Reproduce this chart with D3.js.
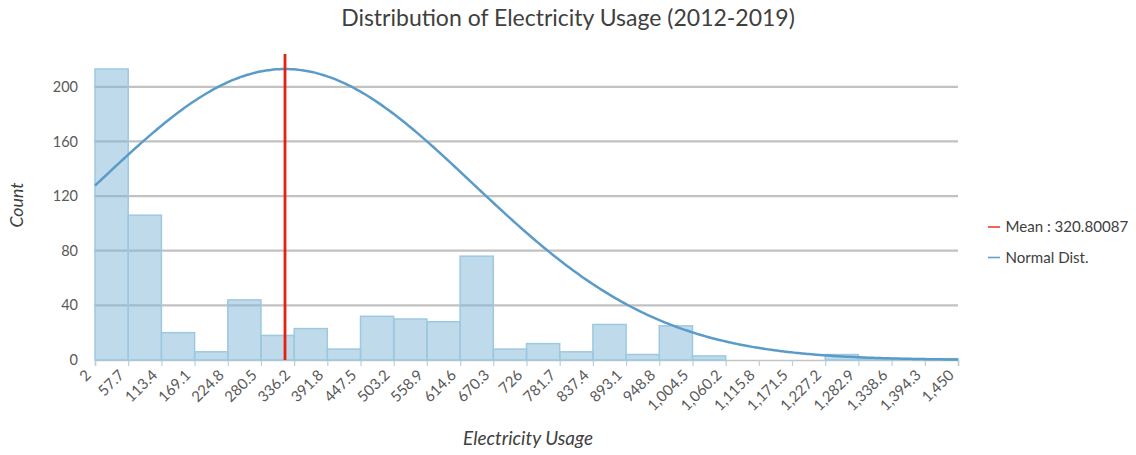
<!DOCTYPE html>
<html>
<head>
<meta charset="utf-8">
<script src="https://cdn.jsdelivr.net/npm/d3@7/dist/d3.min.js"></script>
<style>
  html, body { margin: 0; padding: 0; background: #fff; }
  svg { display: block; font-family: Lato, "Open Sans", sans-serif; }
</style>
</head>
<body>
<svg id="chart" width="1136" height="455"></svg>
<script>
// Histogram bin edges (electricity usage) and counts per bin
const binEdges = [2, 57.7, 113.4, 169.1, 224.8, 280.5, 336.2, 391.8, 447.5, 503.2, 558.9,
  614.6, 670.3, 726, 781.7, 837.4, 893.1, 948.8, 1004.5, 1060.2, 1115.8, 1171.5,
  1227.2, 1282.9, 1338.6, 1394.3, 1450];
const binCounts = [213, 106, 20, 6, 44, 18, 23, 8, 32, 30, 28, 76, 8, 12, 6, 26, 4, 25,
  3, 0, 0, 0, 4, 1, 1, 1];
const yTicks = [0, 40, 80, 120, 160, 200];
const meanValue = 320.80087;
const stdDev = 315;
const yMax = 224;

const titleText = "Distribution of Electricity Usage (2012-2019)";
const xTitle = "Electricity Usage";
const yTitle = "Count";
const legendItems = [
  { label: "Mean : 320.80087", color: "#e8412a" },
  { label: "Normal Dist.", color: "#6a9fcb" }
];

const svg = d3.select("#chart");
const plot = { left: 95, right: 958, top: 54, bottom: 360 };

const x = d3.scaleLinear().domain([binEdges[0], binEdges[binEdges.length - 1]]).range([plot.left, plot.right]);
const y = d3.scaleLinear().domain([0, yMax]).range([plot.bottom, plot.top]);

// shrink or grow a text element's font so it spans the given width
function fitWidth(sel, target) {
  const w = sel.node().getComputedTextLength();
  const fs = parseFloat(sel.attr("font-size"));
  sel.attr("font-size", (fs * target / w).toFixed(2));
}

// horizontal gridlines
svg.append("g").selectAll("line").data(yTicks.filter(d => d > 0)).join("line")
  .attr("x1", plot.left - 1).attr("x2", plot.right)
  .attr("y1", d => y(d)).attr("y2", d => y(d))
  .attr("stroke", "#c2c2c2").attr("stroke-width", 2.2);

// x axis baseline and ticks
const xAxis = svg.append("g").attr("transform", `translate(0,${plot.bottom})`)
  .call(d3.axisBottom(x).tickValues(binEdges).tickSize(6).tickFormat(""));
xAxis.select(".domain").attr("stroke", "#c4c4c4").attr("stroke-width", 1.5);
xAxis.selectAll(".tick line").attr("stroke", "#b9cfdc").attr("stroke-width", 1.2);

// histogram bars
const bins = binCounts.map((c, i) => ({ x0: binEdges[i], x1: binEdges[i + 1], count: c }));
svg.append("g").selectAll("rect").data(bins.filter(b => b.count > 0)).join("rect")
  .attr("x", d => x(d.x0))
  .attr("width", d => x(d.x1) - x(d.x0))
  .attr("y", d => y(d.count))
  .attr("height", d => y(0) - y(d.count))
  .attr("fill", "#7fb8d8").attr("fill-opacity", 0.5)
  .attr("stroke", "#9dc9e0").attr("stroke-width", 1.5);

// normal distribution curve scaled to the tallest bin
const peak = d3.max(binCounts);
const curveX = d3.range(x.domain()[0], x.domain()[1] + 1e-6, (x.domain()[1] - x.domain()[0]) / 300);
const curveData = curveX.map(v => [v, peak * Math.exp(-((v - meanValue) ** 2) / (2 * stdDev * stdDev))]);
svg.append("path").datum(curveData)
  .attr("d", d3.line().x(d => x(d[0])).y(d => y(d[1])).curve(d3.curveBasis))
  .attr("fill", "none").attr("stroke", "#5b9bc8").attr("stroke-width", 2.5);

// mean line
svg.append("line")
  .attr("x1", x(meanValue)).attr("x2", x(meanValue))
  .attr("y1", y(0)).attr("y2", y(yMax))
  .attr("stroke", "#e3230f").attr("stroke-width", 2.8);

// y tick labels
svg.append("g").selectAll("text").data(yTicks).join("text")
  .attr("x", 78).attr("y", d => y(d)).attr("dy", "0.35em")
  .attr("text-anchor", "end").attr("font-size", 14.5).attr("fill", "#595959")
  .text(d => d);

// x tick labels, rotated
const fmt = d3.format(",");
svg.append("g").selectAll("text").data(binEdges).join("text")
  .attr("transform", d => `translate(${x(d) - 3},376) rotate(-45)`)
  .attr("text-anchor", "end").attr("font-size", 15).attr("fill", "#595959")
  .text(d => fmt(d));

// title
const title = svg.append("text").attr("x", 568).attr("y", 26)
  .attr("text-anchor", "middle").attr("font-size", 20).attr("fill", "#404040")
  .text(titleText);
fitWidth(title, 454);

// axis titles
const xt = svg.append("text").attr("x", 528).attr("y", 445)
  .attr("text-anchor", "middle").attr("font-size", 16).attr("font-style", "italic")
  .attr("fill", "#404040").text(xTitle);
fitWidth(xt, 130);

const yt = svg.append("text").attr("transform", "translate(23,205) rotate(-90)")
  .attr("text-anchor", "middle").attr("font-size", 16).attr("font-style", "italic")
  .attr("fill", "#404040").text(yTitle);
fitWidth(yt, 45);

// legend
const legend = svg.append("g").selectAll("g").data(legendItems).join("g")
  .attr("transform", (d, i) => `translate(988,${227 + i * 30.5})`);
legend.append("line").attr("x1", 0).attr("x2", 12).attr("y1", 0).attr("y2", 0)
  .attr("stroke", d => d.color).attr("stroke-width", 1.6);
const legendText = legend.append("text").attr("x", 17.5).attr("y", 0).attr("dy", "0.35em")
  .attr("font-size", 15).attr("fill", "#404040").text(d => d.label);
fitWidth(d3.select(legendText.nodes()[0]), 122.7);
d3.select(legendText.nodes()[1]).attr("font-size", d3.select(legendText.nodes()[0]).attr("font-size"));
</script>
</body>
</html>
